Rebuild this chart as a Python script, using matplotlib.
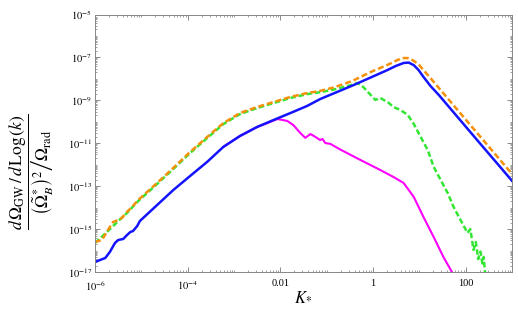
import numpy as np
import matplotlib
matplotlib.use("Agg")
import matplotlib.pyplot as plt
from matplotlib.ticker import LogLocator, NullFormatter

plt.rcParams['font.family'] = ['Liberation Serif', 'DejaVu Serif']
plt.rcParams['mathtext.fontset'] = 'stix'

# curves, stored as log10(K*) and log10(y)
blue_logk = [-6.00, -5.78, -5.68, -5.57, -5.50, -5.39, -5.31, -5.24, -5.18, -5.09,
             -5.03, -4.66, -4.31, -3.95, -3.58, -3.23, -2.87, -2.50, -2.15, -1.78,
             -1.42, -1.14, -0.42, 0.31, 0.49, 0.66, 0.77, 0.88, 0.98,
             1.09, 1.24, 1.42, 2.20, 3.02]
blue_logy = [-16.53, -16.35, -16.07, -15.65, -15.51, -15.46, -15.28, -15.14, -15.09, -14.86,
             -14.62, -13.88, -13.18, -12.53, -11.87, -11.17, -10.66, -10.24, -9.92, -9.59,
             -9.26, -8.94, -8.29, -7.59, -7.40, -7.26, -7.24, -7.36, -7.58,
             -7.91, -8.33, -8.75, -10.73, -12.80]

orange_logk = [-6.00, -5.85, -5.72, -5.61, -5.50, -5.42, -5.31, -5.20, -5.07, -4.66,
               -4.31, -3.95, -3.58, -3.23, -2.87, -2.50, -2.15, -1.78, -1.42, -1.14,
               -0.85, -0.45, -0.05, 0.31, 0.53, 0.64, 0.75, 0.85, 0.98,
               1.09, 1.24, 1.42, 2.20, 3.02]
orange_logy = [-15.60, -15.51, -15.04, -14.67, -14.58, -14.48, -14.20, -13.97, -13.65, -12.85,
               -12.15, -11.41, -10.71, -10.06, -9.59, -9.31, -9.08, -8.84, -8.66, -8.56,
               -8.40, -8.10, -7.68, -7.35, -7.12, -7.03, -7.03, -7.12, -7.31,
               -7.59, -7.96, -8.42, -10.40, -12.48]

green_logk = [-6.00, -5.72, -5.50, -5.31, -5.07, -4.66, -4.31, -3.95, -3.58, -3.23,
              -2.87, -2.50, -2.15, -1.78, -1.42, -1.14, -0.85, -0.49, -0.34, -0.21,
              -0.05, 0.05, 0.16, 0.23, 0.34, 0.44, 0.59, 0.75, 0.88, 1.03,
              1.18, 1.31, 1.46, 1.61, 1.74, 1.89, 2.04, 2.10, 2.17, 2.22,
              2.27, 2.32, 2.36, 2.39, 2.42]
green_logy = [-15.65, -15.09, -14.63, -14.25, -13.70, -12.90, -12.20, -11.46, -10.76, -10.11,
              -9.64, -9.36, -9.13, -8.89, -8.71, -8.62, -8.50, -8.30, -8.19, -8.38,
              -8.75, -8.98, -8.89, -8.98, -9.12, -9.31, -9.45, -9.68, -10.10, -10.71,
              -11.31, -12.10, -12.71, -13.31, -13.97, -14.58, -15.18, -15.00, -15.97, -15.60,
              -16.40, -16.05, -16.60, -16.30, -17.10]

magenta_logk = [-3.23, -2.87, -2.50, -2.28, -2.06, -1.85, -1.72, -1.57, -1.46, -1.35,
                -1.24, -1.14, -1.09, -1.03, -0.92, -0.70, -0.27, 0.16, 0.44,
                0.66, 0.88, 1.09, 1.31, 1.52, 1.68, 1.72]
magenta_logy = [-11.17, -10.66, -10.24, -10.06, -9.87, -9.96, -10.15, -10.52, -10.75, -10.57,
                -10.71, -10.85, -10.80, -10.99, -11.03, -11.30, -11.78, -12.25, -12.57,
                -12.85, -13.50, -14.44, -15.37, -16.30, -16.91, -17.10]

xtick_vals = [1e-6, 1e-4, 1e-2, 1, 100]
xtick_labels = ['$10^{-6}$', '$10^{-4}$', '0.01', '1', '100']
ytick_exps = [-5, -7, -9, -11, -13, -15, -17]


def pw(v):
    return np.power(10.0, v)


fig = plt.figure(figsize=(5.18, 3.10), dpi=100)
ax = fig.add_axes([95 / 518, 1 - 272 / 310, 417 / 518, 257.5 / 310])

ax.plot(pw(green_logk), pw(green_logy), color='#33e633', lw=1.8, dashes=(2.2, 1.1))
ax.plot(pw(magenta_logk), pw(magenta_logy), color='#ff00ff', lw=1.5)
ax.plot(pw(blue_logk), pw(blue_logy), color='#1414ff', lw=1.8)
ax.plot(pw(orange_logk), pw(orange_logy), color='#f5900a', lw=1.8, dashes=(2.4, 1.2))

ax.set_xscale('log')
ax.set_yscale('log')
ax.set_xlim(1e-6, 1e3)
ax.set_ylim(1e-17, 1e-5)

ax.set_xticks(xtick_vals)
ax.set_xticklabels(xtick_labels)
ax.set_yticks([10.0 ** e for e in ytick_exps])
ax.set_yticklabels(['$10^{%d}$' % e for e in ytick_exps])
ax.xaxis.set_minor_locator(LogLocator(base=10, subs=np.arange(1, 10), numticks=50))
ax.yaxis.set_minor_locator(LogLocator(base=10, subs=np.arange(1, 10), numticks=50))
ax.xaxis.set_minor_formatter(NullFormatter())
ax.yaxis.set_minor_formatter(NullFormatter())

ax.tick_params(which='both', direction='in', top=True, right=True,
               color='#777777', labelsize=7.5)
ax.tick_params(axis='x', which='major', pad=5)
ax.tick_params(axis='y', which='major', pad=2)
ax.tick_params(which='major', length=3.5, width=0.6)
ax.tick_params(which='minor', length=1.5, width=0.5)
for s in ax.spines.values():
    s.set_color('#888888')
    s.set_linewidth(0.7)

fig.text(303 / 518, 1 - 297 / 310, '$K_{*}$', fontsize=12, ha='center', va='center')
ylab = (r'$\dfrac{d\,\Omega_{\mathrm{GW}}\,/\,d\,\mathrm{Log}\,(k)}'
        r'{\left.\left(\tilde{\Omega}^{*}_{B}\right)^{2}\right/\Omega_{\mathrm{rad}}}$')
fig.text(32 / 518, 1 - 172 / 310, ylab, fontsize=12.5, rotation=90, ha='center', va='center')

fig.savefig('out.png', dpi=100)
